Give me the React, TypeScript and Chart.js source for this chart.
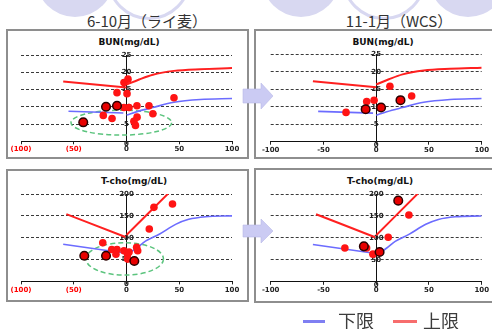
import { useEffect, useRef } from "react";
import { Chart, registerables } from "chart.js";

Chart.register(...registerables);

type Pt = { x: number; y: number };
const zip = (xs: number[], ys: number[]): Pt[] => xs.map((x, i) => ({ x, y: ys[i] }));

// ---- axis ticks ----
const xTickValues = [-100, -50, 0, 50, 100];
const bunTickValues = [0, 5, 10, 15, 20, 25];
const tchoTickValues = [0, 50, 100, 150, 200];

// ---- BUN (mg/dL) limit curves ----
const bunUpperLeftX = [-60, 0];
const bunUpperLeftY = [17.3, 15.6];
const bunUpperRightX = [0, 12, 25, 45, 70, 100];
const bunUpperRightY = [16.4, 17.9, 19.3, 20.4, 20.9, 21.2];
const bunLowerLeftX = [-55, -3];
const bunLowerLeftY = [8.7, 8.2];
const bunLowerRightX = [0, 10, 25, 45, 70, 100];
const bunLowerRightY = [7.6, 8.6, 9.8, 11.3, 12.1, 12.4];

// ---- T-cho (mg/dL) limit curves ----
const tchoUpperLeftX = [-57, -1];
const tchoUpperLeftY = [154, 101.5];
const tchoUpperRightX = [0, 39.5];
const tchoUpperRightY = [106, 201];
const tchoLowerLeftX = [-60, -2];
const tchoLowerLeftY = [85, 65];
const tchoLowerRightX = [2, 10, 18, 31, 47, 59, 75, 100];
const tchoLowerRightY = [64, 77, 92, 108, 131, 142, 148, 150];

// ---- BUN, 6-10月 (ライ麦) ----
const bunRyeX = [-22, -13.7, -9, -2.4, 1.4, 0.5, -2.4, 2.4, 9.9, 21.3, 25, 10, 7, 8.5, 45];
const bunRyeY = [7.5, 6.6, 14.1, 17, 18, 13.8, 9.8, 9.8, 10.3, 10.3, 8, 7, 5.8, 4.6, 12.6];
const bunRyeMarkedX = [-41, -19.4, -9];
const bunRyeMarkedY = [5.5, 10, 10.3];

// ---- BUN, 11-1月 (WCS) ----
const bunWcsX = [-28.6, -9, -2, 13, 33.6];
const bunWcsY = [8.4, 11.5, 11.9, 15.9, 13.1];
const bunWcsMarkedX = [-10, 4.6, 23];
const bunWcsMarkedY = [9.3, 9.8, 11.9];

// ---- T-cho, 6-10月 (ライ麦) ----
const tchoRyeX = [-22.5, -14, -9, -10, -2.4, 1, 1.1, 2.4, 9.6, 10.6, 21.6, 26, 43.6];
const tchoRyeY = [88.5, 73, 73, 62, 70, 62, 51, 67, 78, 70, 120, 169.5, 177];
const tchoRyeMarkedX = [-40, -19.4, 7.4];
const tchoRyeMarkedY = [58.8, 58.8, 46.6];

// ---- T-cho, 11-1月 (WCS) ----
const tchoWcsX = [-29.7, -9.1, -3.1, 11.4, 31];
const tchoWcsY = [77, 77, 63, 101.6, 152];
const tchoWcsMarkedX = [-11.7, 3.2, 20.9];
const tchoWcsMarkedY = [80.8, 67.8, 184.8];

// dashed group rings: centre x, centre y, radius x, radius y (data units)
const bunRyeGroup = [-4.9, 5.4, 47.7, 3.6];
const tchoRyeGroup = [-1.7, 51.5, 36.7, 37];

const RED = "#ff2020";
const BLUE = "#6c6cff";
const TICK_FONT = { family: "DejaVu Sans", size: 7, weight: "bold" as const, lineHeight: 1.2 };

interface PanelProps {
  left: number;
  top: number;
  width: number;
  height: number;
  padLeft: number;
  padRight: number;
  padTop: number;
  axisHeight: number;
  tickPad: number;
  yMax: number;
  yTicks: number[];
  parenNegatives: boolean;
  upper: Pt[][];
  lower: Pt[][];
  dots: Pt[];
  marked: Pt[];
  group?: number[];
}

function ChartPanel(p: PanelProps) {
  const ref = useRef<HTMLCanvasElement | null>(null);

  useEffect(() => {
    if (!ref.current) return;

    // y labels sit centred on the vertical axis at x = 0
    const centreLabels = {
      id: "centreLabels",
      beforeDatasetsDraw(chart: any) {
        const xs = chart.scales.x;
        const ys = chart.scales.y;
        const ctx = chart.ctx as CanvasRenderingContext2D;
        const x0 = xs.getPixelForValue(0);
        ctx.save();
        ctx.font = 'bold 7px "DejaVu Sans"';
        ctx.textAlign = "center";
        ctx.textBaseline = "middle";
        ctx.fillStyle = "#222";
        ys.ticks.forEach((t: any) => {
          const y = ys.getPixelForValue(t.value);
          ctx.fillText(String(t.value), x0, y + (t.value === 0 ? 3 : 0));
        });
        ctx.restore();
      },
    };

    const groupRing = {
      id: "groupRing",
      beforeDatasetsDraw(chart: any) {
        if (!p.group) return;
        const xs = chart.scales.x;
        const ys = chart.scales.y;
        const [cx, cy, rx, ry] = p.group;
        const px = xs.getPixelForValue(cx);
        const py = ys.getPixelForValue(cy);
        const prx = Math.abs(xs.getPixelForValue(cx + rx) - px);
        const pry = Math.abs(ys.getPixelForValue(cy + ry) - py);
        const ctx = chart.ctx as CanvasRenderingContext2D;
        ctx.save();
        ctx.strokeStyle = "#5cc47e";
        ctx.lineWidth = 1.5;
        ctx.setLineDash([5, 3]);
        ctx.beginPath();
        ctx.ellipse(px, py, prx, pry, 0, 0, Math.PI * 2);
        ctx.stroke();
        ctx.restore();
      },
    };

    const lineDs = (data: Pt[], color: string, width: number) => ({
      data,
      showLine: true,
      borderColor: color,
      backgroundColor: color,
      borderWidth: width,
      pointRadius: 0,
      tension: 0.4,
      cubicInterpolationMode: "monotone" as const,
    });

    const datasets: any[] = [
      {
        data: p.marked,
        pointRadius: 4.3,
        backgroundColor: "#e80000",
        borderColor: "#2a0000",
        borderWidth: 1.5,
      },
      {
        data: p.dots,
        pointRadius: 3.8,
        backgroundColor: "#ff1414",
        borderColor: "#ff1414",
        borderWidth: 0,
      },
      ...p.upper.map((d) => lineDs(d, RED, 2)),
      ...p.lower.map((d) => lineDs(d, BLUE, 1.6)),
    ];

    const chart = new Chart(ref.current, {
      type: "scatter",
      data: { datasets },
      plugins: [groupRing, centreLabels],
      options: {
        responsive: false,
        animation: false,
        devicePixelRatio: 1,
        layout: { padding: { left: p.padLeft, right: p.padRight, top: p.padTop, bottom: 0 } },
        plugins: {
          legend: { display: false },
          tooltip: { enabled: false },
          title: { display: false },
        },
        scales: {
          x: {
            type: "linear",
            position: "bottom",
            min: -100,
            max: 100,
            afterBuildTicks: (s: any) => {
              s.ticks = xTickValues.map((v) => ({ value: v }));
            },
            afterFit: (s: any) => {
              s.height = p.axisHeight;
            },
            grid: {
              display: true,
              drawOnChartArea: false,
              drawTicks: true,
              tickLength: 3,
              color: "#222",
              tickColor: "#222",
            },
            border: { display: true, color: "#111", width: 1 },
            ticks: {
              padding: p.tickPad,
              autoSkip: false,
              maxRotation: 0,
              font: TICK_FONT,
              color: (ctx: any) => (p.parenNegatives && ctx.tick && ctx.tick.value < 0 ? "#ff0000" : "#222"),
              callback: (v: any) => {
                const n = Number(v);
                return p.parenNegatives && n < 0 ? `(${-n})` : String(n);
              },
            },
          },
          y: {
            type: "linear",
            position: { x: 0 } as any,
            min: 0,
            max: p.yMax,
            afterBuildTicks: (s: any) => {
              s.ticks = p.yTicks.map((v) => ({ value: v }));
            },
            grid: {
              drawTicks: false,
              lineWidth: 1,
              color: (ctx: any) => (ctx.tick && ctx.tick.value === 0 ? "rgba(0,0,0,0)" : "#3a3a3a"),
            },
            border: { display: true, color: "#111", width: 1, dash: [3, 2] },
            ticks: { display: false },
          },
        },
      } as any,
    });

    return () => chart.destroy();
  }, []);

  return (
    <canvas
      ref={ref}
      width={p.width}
      height={p.height}
      style={{ position: "absolute", left: p.left, top: p.top, width: p.width, height: p.height, display: "block" }}
    />
  );
}

const box = (left: number, top: number, width: number, height: number) => (
  <div
    style={{
      position: "absolute",
      left,
      top,
      width,
      height,
      boxSizing: "border-box",
      border: "2px solid #8e8e8e",
      background: "#fff",
    }}
  />
);

const panelTitle = (text: string, cx: number, cy: number) => (
  <div
    style={{
      position: "absolute",
      left: cx - 60,
      top: cy - 6,
      width: 120,
      lineHeight: "12px",
      textAlign: "center",
      font: 'bold 9px "DejaVu Sans"',
      color: "#111",
      whiteSpace: "nowrap",
    }}
  >
    {text}
  </div>
);

const seasonTitle = (text: string, cx: number, cy: number) => (
  <div
    style={{
      position: "absolute",
      left: cx - 90,
      top: cy - 8,
      width: 180,
      lineHeight: "16px",
      textAlign: "center",
      fontFamily: '"Noto Sans CJK JP", "Noto Sans", sans-serif',
      fontSize: 15,
      color: "#333",
      whiteSpace: "nowrap",
    }}
  >
    {text}
  </div>
);

const disc = (cx: number, cy: number, r: number, filled: boolean) => (
  <div
    style={{
      position: "absolute",
      left: cx - r,
      top: cy - r,
      width: r * 2,
      height: r * 2,
      borderRadius: "50%",
      boxSizing: "border-box",
      background: filled ? "#d8d8f1" : "#fff",
      border: filled ? "none" : "3px solid #d8d8f1",
    }}
  />
);

export default function App() {
  const bunUpper = [zip(bunUpperLeftX, bunUpperLeftY), zip(bunUpperRightX, bunUpperRightY)];
  const bunLower = [zip(bunLowerLeftX, bunLowerLeftY), zip(bunLowerRightX, bunLowerRightY)];
  const tchoUpper = [zip(tchoUpperLeftX, tchoUpperLeftY), zip(tchoUpperRightX, tchoUpperRightY)];
  const tchoLower = [zip(tchoLowerLeftX, tchoLowerLeftY), zip(tchoLowerRightX, tchoLowerRightY)];

  return (
    <div
      style={{
        position: "fixed",
        left: 0,
        top: 0,
        width: 492,
        height: 329,
        overflow: "hidden",
        background: "#fff",
      }}
    >
      {disc(75, -22, 39, true)}
      {disc(149, -22, 42, false)}
      {disc(301, -22, 39, true)}
      {disc(384, -22, 42, false)}
      {disc(468, -22, 39, true)}

      {seasonTitle("6-10月（ライ麦）", 147, 21)}
      {seasonTitle("11-1月（WCS）", 399, 21)}

      {box(6, 29, 243, 130)}
      {box(254, 29, 260, 130)}
      {box(6, 169, 243, 133)}
      {box(254, 168, 260, 135)}

      {panelTitle("BUN(mg/dL)", 129, 43)}
      {panelTitle("BUN(mg/dL)", 383, 43)}
      {panelTitle("T-cho(mg/dL)", 134, 182)}
      {panelTitle("T-cho(mg/dL)", 380, 182)}

      <ChartPanel
        left={8} top={31} width={239} height={126}
        padLeft={13} padRight={15} padTop={24} axisHeight={15.7} tickPad={1}
        yMax={25} yTicks={bunTickValues} parenNegatives
        upper={bunUpper} lower={bunLower}
        dots={zip(bunRyeX, bunRyeY)} marked={zip(bunRyeMarkedX, bunRyeMarkedY)}
        group={bunRyeGroup}
      />
      <ChartPanel
        left={256} top={31} width={236} height={126}
        padLeft={14.7} padRight={10.3} padTop={23.5} axisHeight={15.3} tickPad={1}
        yMax={25} yTicks={bunTickValues} parenNegatives={false}
        upper={bunUpper} lower={bunLower}
        dots={zip(bunWcsX, bunWcsY)} marked={zip(bunWcsMarkedX, bunWcsMarkedY)}
      />
      <ChartPanel
        left={8} top={171} width={239} height={128}
        padLeft={13} padRight={15} padTop={23} axisHeight={17.6} tickPad={1.5}
        yMax={200} yTicks={tchoTickValues} parenNegatives
        upper={tchoUpper} lower={tchoLower}
        dots={zip(tchoRyeX, tchoRyeY)} marked={zip(tchoRyeMarkedX, tchoRyeMarkedY)}
        group={tchoRyeGroup}
      />
      <ChartPanel
        left={256} top={171} width={236} height={130}
        padLeft={14.7} padRight={10.3} padTop={23} axisHeight={19.2} tickPad={1}
        yMax={200} yTicks={tchoTickValues} parenNegatives={false}
        upper={tchoUpper} lower={tchoLower}
        dots={zip(tchoWcsX, tchoWcsY)} marked={zip(tchoWcsMarkedX, tchoWcsMarkedY)}
      />

      <svg width={492} height={329} style={{ position: "absolute", left: 0, top: 0, pointerEvents: "none" }}>
        <polygon points="243,89 261,89 261,83 273,96 261,109 261,103 243,103" fill="#cbcbf3" stroke="#b9b9e8" strokeWidth={0.6} />
        <polygon points="243,225 261,225 261,219 273,231 261,243 261,237 243,237" fill="#cbcbf3" stroke="#b9b9e8" strokeWidth={0.6} />
      </svg>

      <div style={{ position: "absolute", left: 303, top: 320, width: 22, height: 3, background: "#7f7ff2" }} />
      <div
        style={{
          position: "absolute",
          left: 338,
          top: 311,
          lineHeight: "19px",
          fontFamily: '"Noto Sans CJK JP", sans-serif',
          fontSize: 18,
          color: "#3c3c3c",
        }}
      >
        下限
      </div>
      <div style={{ position: "absolute", left: 393, top: 320, width: 24, height: 3, background: "#f76d6d" }} />
      <div
        style={{
          position: "absolute",
          left: 423,
          top: 311,
          lineHeight: "19px",
          fontFamily: '"Noto Sans CJK JP", sans-serif',
          fontSize: 18,
          color: "#3c3c3c",
        }}
      >
        上限
      </div>
    </div>
  );
}
